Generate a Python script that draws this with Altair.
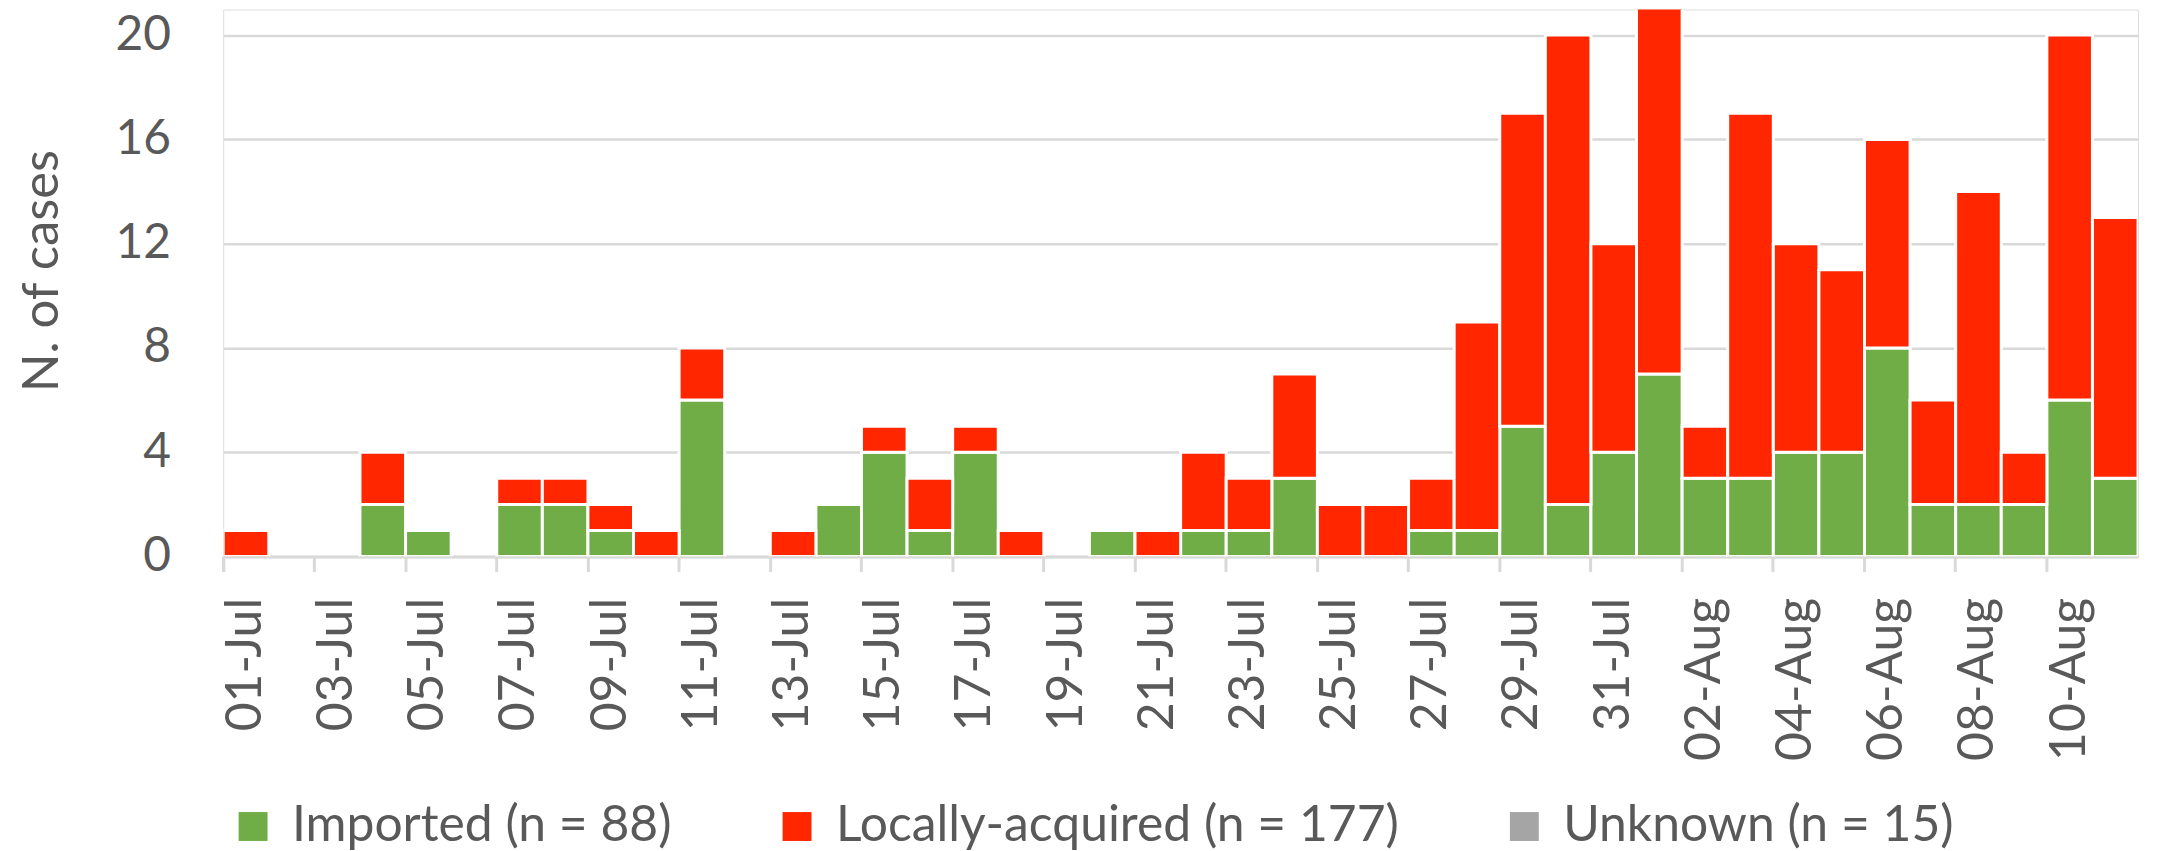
import altair as alt
import pandas as pd

dates = ["01-Jul", "02-Jul", "03-Jul", "04-Jul", "05-Jul", "06-Jul", "07-Jul", "08-Jul",
         "09-Jul", "10-Jul", "11-Jul", "12-Jul", "13-Jul", "14-Jul", "15-Jul", "16-Jul",
         "17-Jul", "18-Jul", "19-Jul", "20-Jul", "21-Jul", "22-Jul", "23-Jul", "24-Jul",
         "25-Jul", "26-Jul", "27-Jul", "28-Jul", "29-Jul", "30-Jul", "31-Jul",
         "01-Aug", "02-Aug", "03-Aug", "04-Aug", "05-Aug", "06-Aug", "07-Aug", "08-Aug",
         "09-Aug", "10-Aug", "11-Aug"]

imported = [0, 0, 0, 2, 1, 0, 2, 2, 1, 0, 6, 0, 0, 2, 4, 1, 4, 0, 0, 1, 0, 1, 1, 3, 0, 0,
            1, 1, 5, 2, 4, 7, 3, 3, 4, 4, 8, 2, 2, 2, 6, 3]
local = [1, 0, 0, 2, 0, 0, 1, 1, 1, 1, 2, 0, 1, 0, 1, 2, 1, 1, 0, 0, 1, 3, 2, 4, 2, 2,
         2, 8, 12, 18, 8, 19, 2, 14, 8, 7, 8, 4, 12, 2, 14, 10]
unknown = [0, 0, 0, 0, 0, 0, 0, 0, 0, 0, 0, 0, 0, 0, 0, 0, 0, 0, 0, 0, 0, 0, 0, 0, 0, 0,
           0, 0, 0, 0, 0, 0, 0, 0, 0, 0, 0, 0, 0, 0, 0, 0]

series_names = ["Imported (n = 88)", "Locally-acquired (n = 177)", "Unknown (n = 15)"]
series_colors = ["#70AD47", "#FF2600", "#A5A5A5"]
y_ticks = [0, 4, 8, 12, 16, 20]

rows = []
for k, (name, vals) in enumerate(zip(series_names, [imported, local, unknown])):
    for d, v in zip(dates, vals):
        rows.append({"date": d, "series": name, "count": v, "ord": k})
df = pd.DataFrame(rows)

FONT = "Lato"
TXT = "#595959"
GRID = "#D9D9D9"

chart = (
    alt.Chart(df)
    .transform_filter("datum.count > 0")
    .mark_bar(stroke="white", strokeWidth=3, clip=True)
    .encode(
        x=alt.X(
            "date:N",
            sort=dates,
            scale=alt.Scale(domain=dates, paddingInner=0, paddingOuter=0),
            axis=alt.Axis(
                title=None,
                values=dates[::2],
                labelAngle=-90,
                bandPosition=0,
                tickExtra=True,
                tickSize=15,
                tickWidth=3,
                tickColor=GRID,
                domainColor=GRID,
                domainWidth=3,
                labelPadding=26,
                labelFont=FONT,
                labelFontSize=50,
                labelColor=TXT,
                grid=False,
            ),
        ),
        y=alt.Y(
            "count:Q",
            stack="zero",
            scale=alt.Scale(domain=[0, 20.98], nice=False, zero=True),
            axis=alt.Axis(
                title="N. of cases",
                values=y_ticks,
                grid=True,
                gridColor=GRID,
                gridWidth=2.5,
                domain=False,
                ticks=False,
                tickSize=0,
                labelPadding=53,
                labelFont=FONT,
                labelFontSize=48,
                labelColor=TXT,
                titleFont=FONT,
                titleFontSize=51,
                titleFontWeight="normal",
                titleColor=TXT,
                titleAngle=-90,
                titleAlign="center",
                titleBaseline="alphabetic",
                titleX=-166,
                titleY=262,
            ),
        ),
        color=alt.Color(
            "series:N",
            scale=alt.Scale(domain=series_names, range=series_colors),
            legend=alt.Legend(
                title=None,
                orient="none",
                direction="horizontal",
                legendX=5,
                legendY=795,
                symbolType="square",
                symbolSize=841,
                symbolStrokeWidth=0,
                symbolOpacity=1,
                labelFont=FONT,
                labelFontSize=50,
                labelColor=TXT,
                labelOffset=14,
                columnPadding=100,
                labelLimit=1000,
            ),
        ),
        order=alt.Order("ord:Q"),
    )
    .properties(
        width=1922,
        height=549,
        autosize=alt.AutoSizeParams(type="none"),
        padding={"left": 216, "top": 0, "right": 11, "bottom": 294},
    )
    .configure_view(stroke=None)
    .configure(background="white")
)

chart.save("out.html", embed_options={"renderer": "svg", "actions": False})
